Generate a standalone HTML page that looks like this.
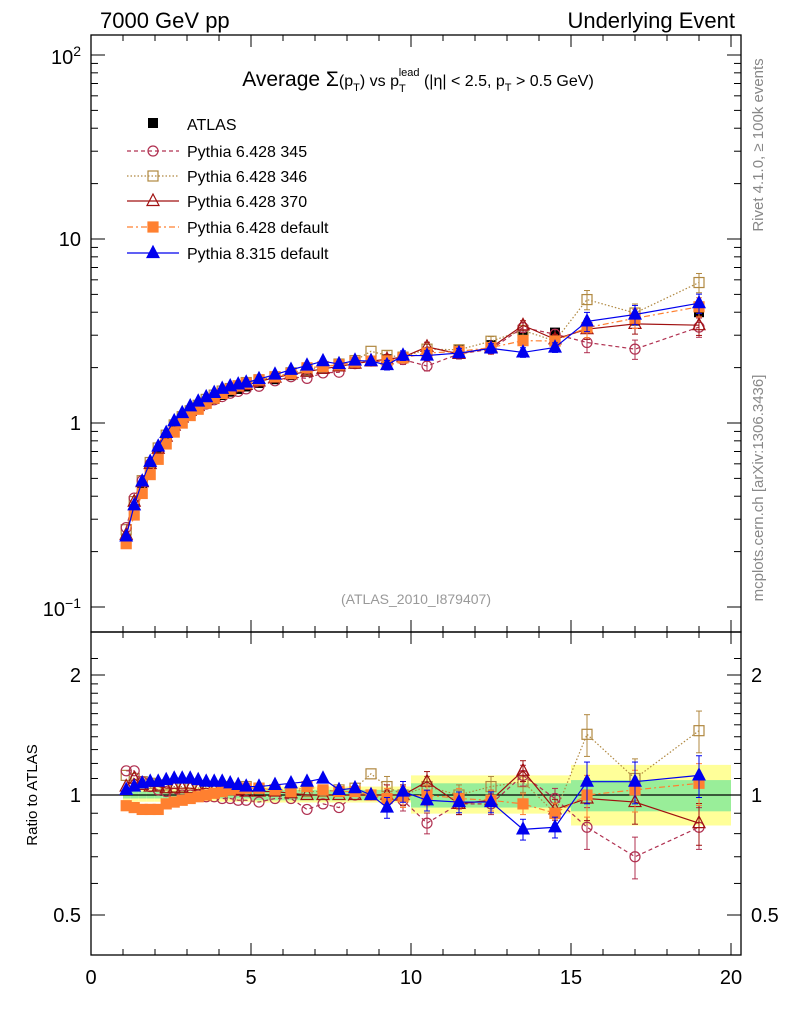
<!DOCTYPE html>
<html><head><meta charset="utf-8"><style>
body{margin:0;background:#fff;}
svg text{font-family:"Liberation Sans",sans-serif;}
</style></head><body>
<svg id="s" width="786" height="1024" xmlns="http://www.w3.org/2000/svg"></svg>
<script>
const s=document.getElementById('s');let h='';
const X=v=>91+32*v;
const YM=v=>423-184*Math.log10(v);
const YR=v=>795-120*Math.log2(v);
const xs=[1.1,1.35,1.6,1.85,2.1,2.35,2.6,2.85,3.1,3.35,3.6,3.85,4.1,4.35,4.6,4.85,5.25,5.75,6.25,6.75,7.25,7.75,8.25,8.75,9.25,9.75,10.5,11.5,12.5,13.5,14.5,15.5,17,19];
const d=[0.235,0.34,0.45,0.57,0.69,0.81,0.93,1.03,1.12,1.2,1.28,1.35,1.42,1.48,1.53,1.58,1.65,1.73,1.82,1.9,1.97,2.03,2.1,2.17,2.22,2.28,2.4,2.5,2.65,2.95,3.1,3.3,3.6,4.0];
const n=xs.length;
const R={
p8:[1.03,1.05,1.07,1.08,1.08,1.09,1.1,1.1,1.1,1.09,1.08,1.08,1.08,1.07,1.06,1.05,1.05,1.06,1.07,1.08,1.1,1.03,1.04,1.0,0.93,1.02,0.97,0.96,0.96,0.82,0.83,1.08,1.08,1.12],
c345:[1.15,1.15,1.08,1.05,1.03,1.02,1.01,1.0,1.0,1.0,0.99,0.99,0.98,0.98,0.97,0.97,0.96,0.98,0.98,0.92,0.95,0.93,1.0,1.0,0.97,0.97,0.85,0.95,0.95,1.12,0.98,0.83,0.7,0.83],
s346:[1.12,1.1,1.08,1.07,1.06,1.06,1.05,1.05,1.04,1.04,1.05,1.05,1.05,1.04,1.04,1.05,1.04,1.03,1.03,1.02,1.02,1.03,1.04,1.13,1.05,1.0,1.05,1.0,1.05,1.08,0.9,1.42,1.1,1.45],
t370:[1.05,1.1,1.06,1.05,1.05,1.04,1.04,1.04,1.04,1.03,1.04,1.03,1.03,1.03,1.03,1.02,1.02,1.02,1.01,1.0,1.0,1.0,1.0,1.0,1.0,1.0,1.08,0.95,0.97,1.15,0.92,0.98,0.96,0.85],
od:[0.94,0.93,0.92,0.92,0.92,0.95,0.96,0.97,0.98,0.99,1.0,1.01,1.02,1.03,1.04,1.04,1.04,1.03,1.02,1.05,1.03,1.02,1.02,1.0,0.98,0.99,1.0,0.98,0.97,0.95,0.9,1.0,1.03,1.07]};
function r(x,y,w,hh,f){h+=`<rect x="${x}" y="${y}" width="${w}" height="${hh}" fill="${f}"/>`;}
function L(x1,y1,x2,y2,c,w){h+=`<line x1="${x1}" y1="${y1}" x2="${x2}" y2="${y2}" stroke="${c||'#000'}" stroke-width="${w||1}"/>`;}
function T(x,y,t,sz,a,c){h+=`<text x="${x}" y="${y}" font-size="${sz}" text-anchor="${a||'start'}" fill="${c||'#000'}">${t}</text>`;}
const edges=[1,1.225,1.475,1.725,1.975,2.225,2.475,2.725,2.975,3.225,3.475,3.725,3.975,4.225,4.475,4.725,5,5.5,6,6.5,7,7.5,8,8.5,9,9.5,10,11,12,13,14,15,16,18,20];
for(let i=0;i<n;i++){let x0=X(edges[i]),x1=X(edges[i+1]);let e=xs[i]<5?0.045:xs[i]<10?0.05:xs[i]<15?0.12:0.19;let g=xs[i]<5?0.02:xs[i]<10?0.03:xs[i]<15?0.07:0.09;
r(x0,YR(1+e),x1-x0,YR(1-e*0.85)-YR(1+e),'#ffff99');r(x0,YR(1+g),x1-x0,YR(1-g)-YR(1+g),'#99ee99');}
L(91,795,741,795,'#000',1.3);
const st={p8:['#0000ee','none','tri',1],c345:['#b03050','4,3','circ',0],s346:['#b08840','1.5,2','sq',0],t370:['#a01010','none','tri',0],od:['#ff8030','6,3,2,3','sq',1]};
function mark(k,x,y){const [c,,m,f]=st[k];const fill=f?c:'none';
if(m=='tri')h+=`<polygon points="${x},${y-7} ${x-6},${y+4.5} ${x+6},${y+4.5}" fill="${fill}" stroke="${c}" stroke-width="1.2"/>`;
else if(m=='circ')h+=`<circle cx="${x}" cy="${y}" r="5" fill="none" stroke="${c}" stroke-width="1.2"/>`;
else h+=`<rect x="${x-5}" y="${y-5}" width="10" height="10" fill="${fill}" stroke="${c}" stroke-width="1.2"/>`;}
function series(k,ratio){const [c,da]=st[k];let p=xs.map((x,i)=>X(x)+','+(ratio?YR(R[k][i]):YM(R[k][i]*d[i]))).join(' ');
h+=`<polyline points="${p}" fill="none" stroke="${c}" stroke-width="1.2" stroke-dasharray="${da}"/>`;
xs.forEach((x,i)=>{let v=R[k][i];let e=x<9?0.01:x<15?0.06:0.12;if(e>0.02){let y1=ratio?YR(v*(1+e)):YM(v*d[i]*(1+e)),y2=ratio?YR(v*(1-e)):YM(v*d[i]*(1-e));L(X(x),y1,X(x),y2,c);L(X(x)-3,y1,X(x)+3,y1,c);L(X(x)-3,y2,X(x)+3,y2,c);}
mark(k,X(x),ratio?YR(v):YM(v*d[i]));});}
xs.forEach((x,i)=>{r(X(x)-5,YM(d[i])-5,10,10,'#000');});
['s346','c345','t370','od','p8'].forEach(k=>{series(k,0);series(k,1);});
h+=`<rect x="91" y="35" width="650" height="597" fill="none" stroke="#000" stroke-width="1.3"/>`;
h+=`<rect x="91" y="632" width="650" height="323" fill="none" stroke="#000" stroke-width="1.3"/>`;
for(let v=0;v<=20;v+=1){let big=v%5==0;let l=big?12:6;[[632,35],[955,632]].forEach(([b,t])=>{L(X(v),b,X(v),b-l);L(X(v),t,X(v),t+l);});if(big)T(X(v),984,v,20,'middle');}
for(let dec=-1;dec<=2;dec++)for(let m=1;m<10;m++){let v=m*Math.pow(10,dec);let y=YM(v);if(y<35||y>632)continue;let l=m==1?14:7;L(91,y,91+l,y);L(741,y,741-l,y);}
T(81,430,'1',20,'end');T(81,246,'10',20,'end');h+=`<text x="81" y="64" font-size="20" text-anchor="end">10<tspan dy="-8" font-size="14">2</tspan></text>`;h+=`<text x="81" y="616" font-size="20" text-anchor="end">10<tspan dy="-8" font-size="14">−1</tspan></text>`;
[0.5,0.6,0.7,0.8,0.9,1,1.1,1.2,1.3,1.4,1.5,1.6,1.7,1.8,1.9,2,2.2].forEach(v=>{let y=YR(v);let big=(v==0.5||v==1||v==2);let l=big?14:7;L(91,y,91+l,y);L(741,y,741-l,y);});
[[0.5,'0.5'],[1,'1'],[2,'2']].forEach(([v,t])=>{T(81,YR(v)+7,t,20,'end');T(751,YR(v)+7,t,20,'start');});
h+=`<text transform="translate(37,795) rotate(-90)" font-size="15" text-anchor="middle">Ratio to ATLAS</text>`;
T(100,28,'7000 GeV pp',22);T(735,28,'Underlying Event',22,'end');
h+=`<text x="418" y="86" font-size="21" text-anchor="middle">Average Σ<tspan font-size="16">(p</tspan><tspan font-size="11" dy="5">T</tspan><tspan font-size="16" dy="-5">)</tspan><tspan font-size="16"> vs p</tspan><tspan font-size="11" dy="6">T</tspan><tspan font-size="11" dx="-7" dy="-16">lead</tspan><tspan font-size="16" dy="10"> (|η| &lt; 2.5, p</tspan><tspan font-size="11" dy="5">T</tspan><tspan font-size="16" dy="-5"> &gt; 0.5 GeV)</tspan></text>`;
T(416,604,'(ATLAS_2010_I879407)',14,'middle','#999');
h+=`<text transform="translate(763,145) rotate(-90)" font-size="15" text-anchor="middle" fill="#888">Rivet 4.1.0, ≥ 100k events</text>`;
h+=`<text transform="translate(763,488) rotate(-90)" font-size="15" text-anchor="middle" fill="#888">mcplots.cern.ch [arXiv:1306.3436]</text>`;
r(148,118,10,10,'#000');T(187,130,'ATLAS',16);
[['c345','Pythia 6.428 345',151],['s346','Pythia 6.428 346',176],['t370','Pythia 6.428 370',201],['od','Pythia 6.428 default',227],['p8','Pythia 8.315 default',253]].forEach(([k,t,y])=>{const [c,da]=st[k];h+=`<line x1="127" y1="${y}" x2="179" y2="${y}" stroke="${c}" stroke-width="1.2" stroke-dasharray="${da}"/>`;mark(k,153,y);T(187,y+6,t,16);});
s.innerHTML=h;
</script></body></html>
